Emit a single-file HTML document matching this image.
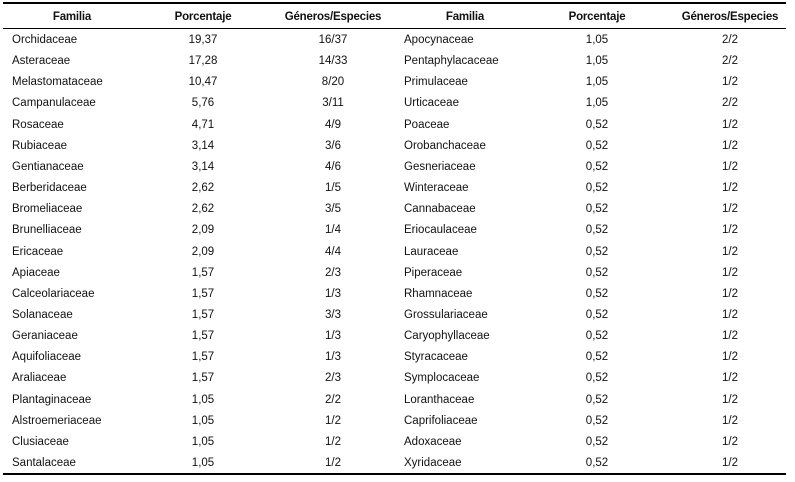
<!DOCTYPE html>
<html><head><meta charset="utf-8"><style>
body{margin:0;width:795px;height:482px;background:#fff;position:relative;overflow:hidden;font-family:"Liberation Sans",sans-serif;font-size:11.5px;color:#111}
.l{position:absolute;left:3px;width:783px;background:#000}
.t{position:absolute;white-space:nowrap;line-height:14px}
.c{transform:translateX(-50%)}
.h{font-weight:bold;letter-spacing:-0.2px}
</style></head><body>
<div class="l" style="top:2px;height:2px"></div>
<div class="l" style="top:28px;height:1px"></div>
<div class="l" style="top:473px;height:2px"></div>
<div id="r"></div>
<script>
var L=[["Orchidaceae","19,37","16/37","Apocynaceae","1,05","2/2"],["Asteraceae","17,28","14/33","Pentaphylacaceae","1,05","2/2"],["Melastomataceae","10,47","8/20","Primulaceae","1,05","1/2"],["Campanulaceae","5,76","3/11","Urticaceae","1,05","2/2"],["Rosaceae","4,71","4/9","Poaceae","0,52","1/2"],["Rubiaceae","3,14","3/6","Orobanchaceae","0,52","1/2"],["Gentianaceae","3,14","4/6","Gesneriaceae","0,52","1/2"],["Berberidaceae","2,62","1/5","Winteraceae","0,52","1/2"],["Bromeliaceae","2,62","3/5","Cannabaceae","0,52","1/2"],["Brunelliaceae","2,09","1/4","Eriocaulaceae","0,52","1/2"],["Ericaceae","2,09","4/4","Lauraceae","0,52","1/2"],["Apiaceae","1,57","2/3","Piperaceae","0,52","1/2"],["Calceolariaceae","1,57","1/3","Rhamnaceae","0,52","1/2"],["Solanaceae","1,57","3/3","Grossulariaceae","0,52","1/2"],["Geraniaceae","1,57","1/3","Caryophyllaceae","0,52","1/2"],["Aquifoliaceae","1,57","1/3","Styracaceae","0,52","1/2"],["Araliaceae","1,57","2/3","Symplocaceae","0,52","1/2"],["Plantaginaceae","1,05","2/2","Loranthaceae","0,52","1/2"],["Alstroemeriaceae","1,05","1/2","Caprifoliaceae","0,52","1/2"],["Clusiaceae","1,05","1/2","Adoxaceae","0,52","1/2"],["Santalaceae","1,05","1/2","Xyridaceae","0,52","1/2"]];
var h="",X=[12,203,333,404,597,730],H=[72,203,333,465,597,730],hd=["Familia","Porcentaje","Géneros/Especies","Familia","Porcentaje","Géneros/Especies"];
for(var j=0;j<6;j++)h+='<div class="t h c" style="left:'+H[j]+'px;top:10px">'+hd[j]+'</div>';
for(var i=0;i<L.length;i++){var y=33+i*21.15;for(var j=0;j<6;j++){var c=(j==0||j==3)?"t":"t c";h+='<div class="'+c+'" style="left:'+X[j]+'px;top:'+y+'px">'+L[i][j]+'</div>';}}
document.getElementById("r").innerHTML=h;
</script>
</body></html>
